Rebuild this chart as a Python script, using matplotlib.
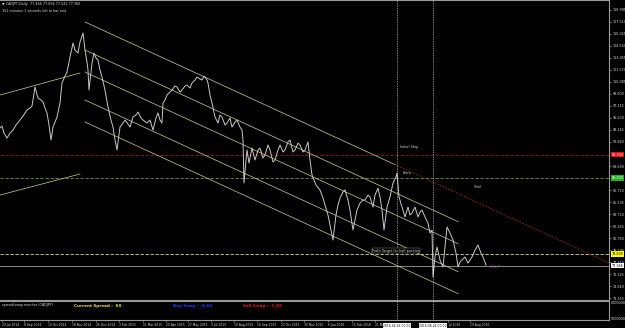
import matplotlib
matplotlib.use('Agg')
import matplotlib.pyplot as plt
from matplotlib.transforms import blended_transform_factory

# CADJPY daily (bar position, close)
bar = [0, 2, 4, 7, 10, 13, 16, 20, 23, 27, 30, 32, 35, 38, 41, 43, 45, 47, 49, 51,
       53, 55, 57, 60, 62, 65, 67, 70, 72, 73, 75, 78, 80, 83, 85, 87, 88, 89, 91, 92,
       94, 96, 98, 100, 102, 105, 108, 111, 113, 115, 117, 119, 120, 123, 125, 128, 130, 133, 136, 138,
       141, 143, 147, 150, 153, 156, 158, 160, 162, 163, 165, 167, 170, 172, 175, 177, 180, 182, 185, 187,
       190, 192, 195, 197, 200, 202, 204, 205, 207, 208, 210, 212, 215, 218, 220, 222, 225, 227, 230, 232,
       235, 237, 240, 242, 243, 244, 246, 247, 249, 252, 255, 258, 260, 263, 265, 268, 270, 273, 275, 278,
       280, 283, 285, 288, 290, 293, 295, 298, 300, 303, 305, 308, 310, 312, 316, 320, 323, 325, 328, 330,
       333, 336, 338, 340, 343, 345, 348, 350, 353, 355, 357, 360, 363, 365, 368, 370, 373, 375, 378, 380,
       382, 384, 387, 390, 393, 396, 397, 399, 402, 405, 408, 410, 412, 415, 418, 420, 422, 425, 428, 430,
       432, 433, 435, 437, 440, 443, 445, 447, 450, 453, 456, 458, 460, 462, 465, 468, 470, 472, 475, 478,
       481, 483, 486]
close = [94.39, 94.64, 93.77, 93.15, 93.77, 94.14, 94.76, 95.38, 95.87, 96.62, 96.86, 97.11, 99.46, 98.10, 97.85, 97.61, 96.86, 96.25, 94.76, 92.90,
         94.51, 95.13, 95.75, 97.48, 99.96, 100.82, 101.32, 103.18, 104.29, 104.91, 104.04, 103.67, 105.03, 106.15, 104.04, 102.56, 101.57, 99.09, 101.32, 102.43,
         103.67, 103.05, 102.80, 101.57, 100.70, 99.09, 96.99, 95.38, 94.51, 92.90, 91.67, 93.52, 94.51, 95.01, 95.38, 94.88, 94.51, 95.75, 96.00, 96.37,
         95.63, 95.38, 95.01, 95.38, 94.14, 95.63, 96.25, 95.38, 95.01, 97.48, 97.85, 98.47, 98.84, 99.09, 99.59, 99.46, 98.84, 99.09, 99.59, 99.71,
         99.34, 99.96, 100.33, 100.70, 100.45, 100.33, 100.82, 100.70, 100.33, 99.96, 98.47, 97.48, 95.75, 95.01, 96.00, 95.75, 94.76, 95.01, 95.63, 94.51,
         95.13, 95.38, 94.51, 94.14, 92.90, 87.58, 90.43, 91.67, 90.06, 91.91, 90.43, 91.67, 91.91, 90.68, 91.05, 92.29, 91.67, 90.18, 90.43, 91.67,
         92.29, 91.42, 91.67, 92.66, 92.90, 91.42, 91.67, 92.53, 92.29, 91.42, 91.67, 92.66, 90.43, 88.57, 87.34, 86.72, 85.73, 84.86, 83.62, 82.39,
         80.53, 83.62, 84.86, 85.73, 86.47, 86.72, 85.48, 84.24, 81.77, 83.00, 84.24, 85.11, 85.48, 85.48, 86.10, 85.85, 84.61, 86.10, 86.96, 85.85,
         84.24, 81.77, 84.61, 85.85, 87.58, 88.33, 88.82, 85.85, 84.61, 83.38, 84.61, 83.62, 83.87, 84.61, 83.38, 83.99, 84.24, 83.38, 82.63, 81.40,
         81.77, 75.95, 78.43, 79.66, 78.05, 77.19, 79.66, 82.14, 81.40, 80.53, 78.92, 77.19, 77.81, 78.05, 78.43, 77.68, 78.05, 78.43, 79.29, 79.91,
         78.92, 78.43, 77.44]

price_ticks = [73.355, 74.840, 76.325, 77.810, 79.295, 80.780, 82.265, 83.750, 85.235,
               86.720, 89.690, 92.660, 94.145, 95.630, 97.115, 98.600, 100.085,
               101.570, 103.055, 104.540, 106.025, 107.510, 108.995]
price_labels = ['73.355', '74.840', '76.325', '77.810', '79.295', '80.780', '82.265', '83.750', '85.235',
                '86.720', '89.690', '92.660', '94.145', '95.630', '97.115', '98.600', '100.085',
                '101.570', '103.055', '104.540', '106.025', '107.510', '108.995']

# labels partly hidden behind the crosshair date boxes keep only their visible part
date_pos = [2, 24, 48, 72, 96, 119, 143, 166, 188, 211, 234, 257, 281, 304, 328, 352, 375, 448, 470]
date_labels = ['29 Jul 2014', '8 Sep 2014', '13 Oct 2014', '18 Nov 2014', '26 Dec 2014', '3 Feb 2015',
               '11 Mar 2015', '20 Apr 2015', '27 May 2015', '3 Jul 2015', '10 Aug 2015', '16 Sep 2015',
               '23 Oct 2015', '30 Nov 2015', '6 Jan 2016', '15 Feb 2016', '21 Ma', 'Jul 2016', '19 Aug 2016']

stop_level = 91.10
entry_level = 88.20
target_level = 78.80
bid_level = 77.366
entry_bar = 397
brexit_bar = 433

# trend lines: (bar0, price0, bar1, price1)
channel = [(85, 107.51, 395, 89.86),
           (85, 104.04, 458, 82.81),
           (85, 101.32, 458, 80.08),
           (85, 97.86, 458, 76.62),
           (85, 95.13, 458, 73.90),
           (0, 98.47, 80, 101.20),
           (0, 86.10, 80, 88.70)]
trail = (395, 89.86, 609, 77.70)

BG = 'black'
GRID = '#9a9a9a'
TXT = '#d8d8d8'
FS = 2.4
DFS = 2.2

fig = plt.figure(figsize=(6.25, 3.28), dpi=100, facecolor=BG)
ax = fig.add_axes([0, 1 - 300 / 328, 609 / 625, 300 / 328], facecolor=BG)
ind = fig.add_axes([0, 1 - 320 / 328, 609 / 625, 19 / 328], facecolor=BG)

ax.set_xlim(0, 609)
ax.set_ylim(73.11, 110.23)
ind.set_xlim(0, 609)
ind.set_ylim(0, 1)

for a in (ax, ind):
    for s in a.spines.values():
        s.set_color(GRID)
        s.set_linewidth(0.8)
    a.spines['left'].set_visible(False)

# price
ax.plot(bar, close, color='#c8c8c8', lw=0.7, zorder=4)

for x0, p0, x1, p1 in channel:
    ax.plot([x0, x1], [p0, p1], color='#d4cf8a', lw=0.5, zorder=3)
ax.plot(trail[0::2], trail[1::2], color='#9c2a22', lw=0.6, ls=(0, (2, 1.5)), zorder=3)

ax.axhline(stop_level, color='#a01818', lw=0.6, ls=(0, (4, 2)), zorder=2)
ax.axhline(entry_level, color='#5f9a3c', lw=0.6, ls=(0, (4, 2)), zorder=2)
ax.axhline(target_level, color='#d8d8a0', lw=0.6, ls=(0, (4, 2)), zorder=2)
ax.axhline(bid_level, color='#a0a0a0', lw=0.6, zorder=2)

for a in (ax, ind):
    a.axvline(entry_bar, color='white', lw=0.5, ls=(0, (1, 1.5)), zorder=5)
    a.axvline(brexit_bar, color='white', lw=0.5, ls=(0, (1, 1.5)), zorder=5)

ax.text(400, 91.9, 'Initial Stop', color=TXT, fontsize=FS, zorder=6)
ax.text(403, 88.75, 'Entry', color=TXT, fontsize=FS, zorder=6)
ax.text(474, 87.0, 'Trail', color=TXT, fontsize=FS, zorder=6)
ax.text(372, 79.1, 'Profit Target for half position', color=TXT, fontsize=FS, zorder=6,
        bbox=dict(facecolor=BG, edgecolor='#9a9a9a', lw=0.3, pad=0.3))
ax.text(490, 77.2, '-132.7', color='#c040d0', fontsize=FS, va='center', zorder=6)

# header
ax.text(0.004, 0.988, '\u25bc CADJPY,Daily  77.466 77.656 77.243 77.366', transform=ax.transAxes,
        color=TXT, fontsize=FS, va='center')
ax.text(0.004, 0.965, '151 minutes 1 seconds left to bar end', transform=ax.transAxes,
        color=TXT, fontsize=FS, va='center')

# right price scale
ax.yaxis.tick_right()
ax.set_yticks(price_ticks)
ax.set_yticklabels(price_labels)
ax.tick_params(axis='y', colors=GRID, labelcolor=TXT, labelsize=FS, length=1.5, width=0.5, pad=1)
ax.set_xticks([])

tr = blended_transform_factory(ax.transAxes, ax.transData)
for lvl, txt, bg, fg in [(stop_level, '91.100', '#e01010', 'white'),
                         (entry_level, '88.200', '#20b020', 'white'),
                         (target_level, '78.800', '#ffff00', 'black'),
                         (bid_level, '77.366', 'white', 'black')]:
    ax.text(1.004, lvl, txt, transform=tr, color=fg, fontsize=FS, va='center', ha='left',
            bbox=dict(facecolor=bg, edgecolor='none', pad=0.4), zorder=7, clip_on=False)

# indicator window
ind.text(2, 0.78, 'spread/swap monitor (CADJPY)', color=TXT, fontsize=FS, va='center')
ind.text(74, 0.72, 'Current Spread :  60', color='#f0e030', fontsize=3, fontweight='bold', va='center')
ind.text(173, 0.72, 'Buy Swap : -4.60', color='#2233ff', fontsize=3, fontweight='bold', va='center')
ind.text(243, 0.72, 'Sell Swap : -1.09', color='#e01a1a', fontsize=3, fontweight='bold', va='center')
ind.yaxis.tick_right()
ind.set_yticks([0.1, 0.9])
ind.set_yticklabels(['5000000', '0000000'])
ind.tick_params(axis='y', colors=GRID, labelcolor=TXT, labelsize=FS, length=0, pad=1)

ind.set_xticks(date_pos)
ind.set_xticklabels(date_labels, ha='left')
ind.tick_params(axis='x', colors=GRID, labelcolor=TXT, labelsize=DFS, length=1.5, width=0.5, pad=0.8)

trx = blended_transform_factory(ind.transData, ind.transAxes)
for xb, txt in [(entry_bar, '2016.04.26 00:00'), (brexit_bar, '2016.06.24 00:00')]:
    ind.text(xb, -0.3, txt, transform=trx, color='black', fontsize=DFS, ha='center', va='center',
             bbox=dict(facecolor='white', edgecolor='none', pad=0.4), zorder=8, clip_on=False)

fig.savefig('out.png', dpi=100, facecolor=BG)
